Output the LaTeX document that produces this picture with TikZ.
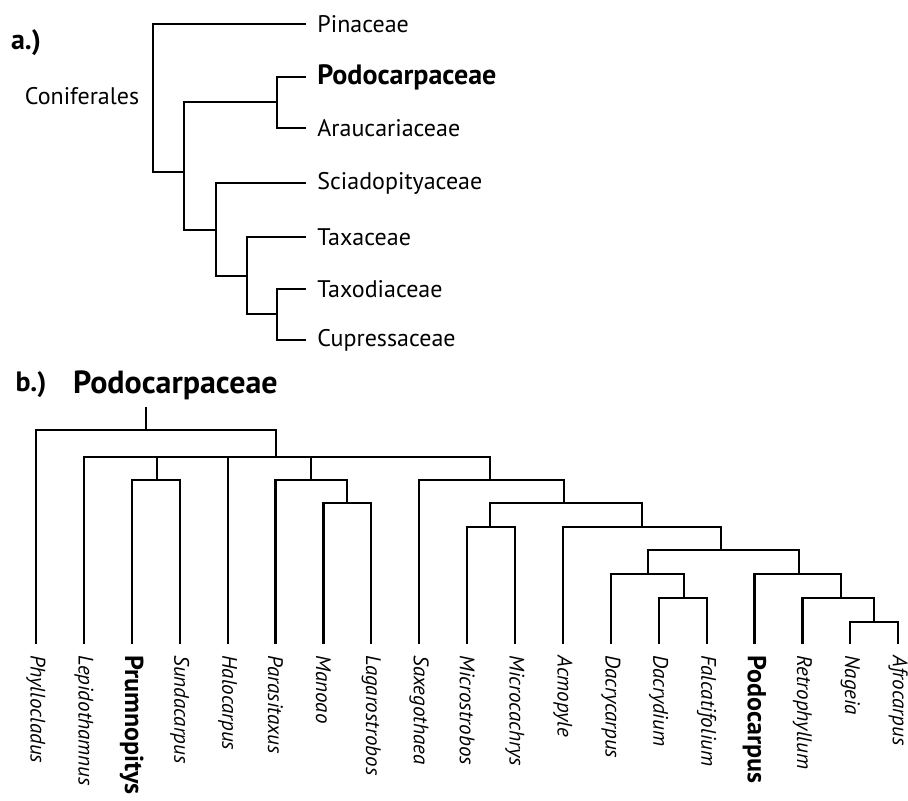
\documentclass[tikz,border=0pt]{standalone}
\usepackage{fontspec}
\setmainfont{PT Sans}
\usepackage{tikz}
\usetikzlibrary{positioning, calc}

\tikzset{
    branch/.style={line width=1.1pt, line cap=rect},
    family/.style={anchor=west, inner xsep=6pt, inner ysep=0pt, font=\fontsize{12}{14}\selectfont},
    familybf/.style={family, font=\fontsize{14}{16}\selectfont\bfseries},
    leaf/.style={rotate=-90, anchor=west, inner xsep=6pt, inner ysep=0pt, font=\fontsize{10.5}{12}\selectfont\itshape},
    leafbf/.style={leaf, font=\fontsize{13}{15}\selectfont\bfseries},
    panel/.style={font=\fontsize{14}{16}\selectfont\bfseries}
}

\begin{document}
\begin{tikzpicture}[x=0.5pt, y=-0.5pt]
    \useasboundingbox (0,0) rectangle (908,800);

    % a.) Coniferales
    \begin{scope}
        \node[panel] (pa) at (26,43) {a.)};
        \node (con) at (82,96) {\fontsize{12}{14}\selectfont Coniferales};

        \node[family] (pin) at (305,24) {Pinaceae};
        \node[familybf] (pod) at (305,77) {Podocarpaceae};
        \node[family] (ara) at (305,128) {Araucariaceae};
        \node[family] (sci) at (305,183) {Sciadopityaceae};
        \node[family] (tax) at (305,237) {Taxaceae};
        \node[family] (txd) at (305,289) {Taxodiaceae};
        \node[family] (cup) at (305,340) {Cupressaceae};

        % inner nodes
        \coordinate (r) at (153,100);
        \coordinate (n2) at (184,172);
        \coordinate (podara) at (277,102);
        \coordinate (n3) at (216,230);
        \coordinate (n4) at (247,276);
        \coordinate (n5) at (277,314);

        \draw[branch] (pin.west) -| (r) |- (n2);
        \draw[branch] (podara) -| (n2) |- (n3);
        \draw[branch] (pod.west) -| (podara) |- (ara.west);
        \draw[branch] (sci.west) -| (n3) |- (n4);
        \draw[branch] (tax.west) -| (n4) |- (n5);
        \draw[branch] (txd.west) -| (n5) |- (cup.west);
    \end{scope}

    % b.) Podocarpaceae
    \begin{scope}
        \node[panel] (pb) at (31,385) {b.)};
        \node[panel, anchor=west, font=\fontsize{16}{18}\selectfont\bfseries] (head) at (66,385) {Podocarpaceae};

        % genera
        \foreach \name/\txt/\sty [count=\i from 0] in {
            phy/Phyllocladus/leaf, lep/Lepidothamnus/leaf, pru/Prumnopitys/leafbf,
            sun/Sundacarpus/leaf, hal/Halocarpus/leaf, par/Parasitaxus/leaf,
            man/Manoao/leaf, lag/Lagarostrobos/leaf, sax/Saxegothaea/leaf,
            mis/Microstrobos/leaf, mic/Microcachrys/leaf, acm/Acmopyle/leaf,
            dac/Dacrycarpus/leaf, dcd/Dacrydium/leaf, fal/Falcatifolium/leaf,
            pdc/Podocarpus/leafbf, ret/Retrophyllum/leaf, nag/Nageia/leaf,
            afr/Afrocarpus/leaf} {
            \node[\sty] (\name) at ({36+47.9*\i},643) {\txt};
        }

        % inner nodes
        \coordinate (stem) at (146,408);
        \coordinate (root) at (146,430);
        \coordinate (c2) at (276,457);
        \coordinate (prsu) at (157,480);
        \coordinate (pmla) at (311,480);
        \coordinate (mala) at (347,503);
        \coordinate (rest) at (490,480);
        \coordinate (mrest) at (564,503);
        \coordinate (mm) at (490,527);
        \coordinate (amr) at (642,527);
        \coordinate (dfpr) at (721,550);
        \coordinate (dfd) at (648,574);
        \coordinate (ddf) at (684,598);
        \coordinate (prna) at (799,574);
        \coordinate (rna) at (841,598);
        \coordinate (nafr) at (874,622);

        \draw[branch] (stem) -- (root);
        \draw[branch] (phy.west) |- (root) -| (c2);
        \draw[branch] (lep.west) |- (c2) -| (rest);
        \draw[branch] (prsu) -- (prsu |- c2);
        \draw[branch] (hal.west) -- (hal.west |- c2);
        \draw[branch] (pmla) -- (pmla |- c2);
        \draw[branch] (pru.west) |- (prsu) -| (sun.west);
        \draw[branch] (par.west) |- (pmla) -| (mala);
        \draw[branch] (man.west) |- (mala) -| (lag.west);
        \draw[branch] (sax.west) |- (rest) -| (mrest);
        \draw[branch] (mm) |- (mrest) -| (amr);
        \draw[branch] (mis.west) |- (mm) -| (mic.west);
        \draw[branch] (acm.west) |- (amr) -| (dfpr);
        \draw[branch] (dfd) |- (dfpr) -| (prna);
        \draw[branch] (dac.west) |- (dfd) -| (ddf);
        \draw[branch] (dcd.west) |- (ddf) -| (fal.west);
        \draw[branch] (pdc.west) |- (prna) -| (rna);
        \draw[branch] (ret.west) |- (rna) -| (nafr);
        \draw[branch] (nag.west) |- (nafr) -| (afr.west);
    \end{scope}
\end{tikzpicture}
\end{document}
